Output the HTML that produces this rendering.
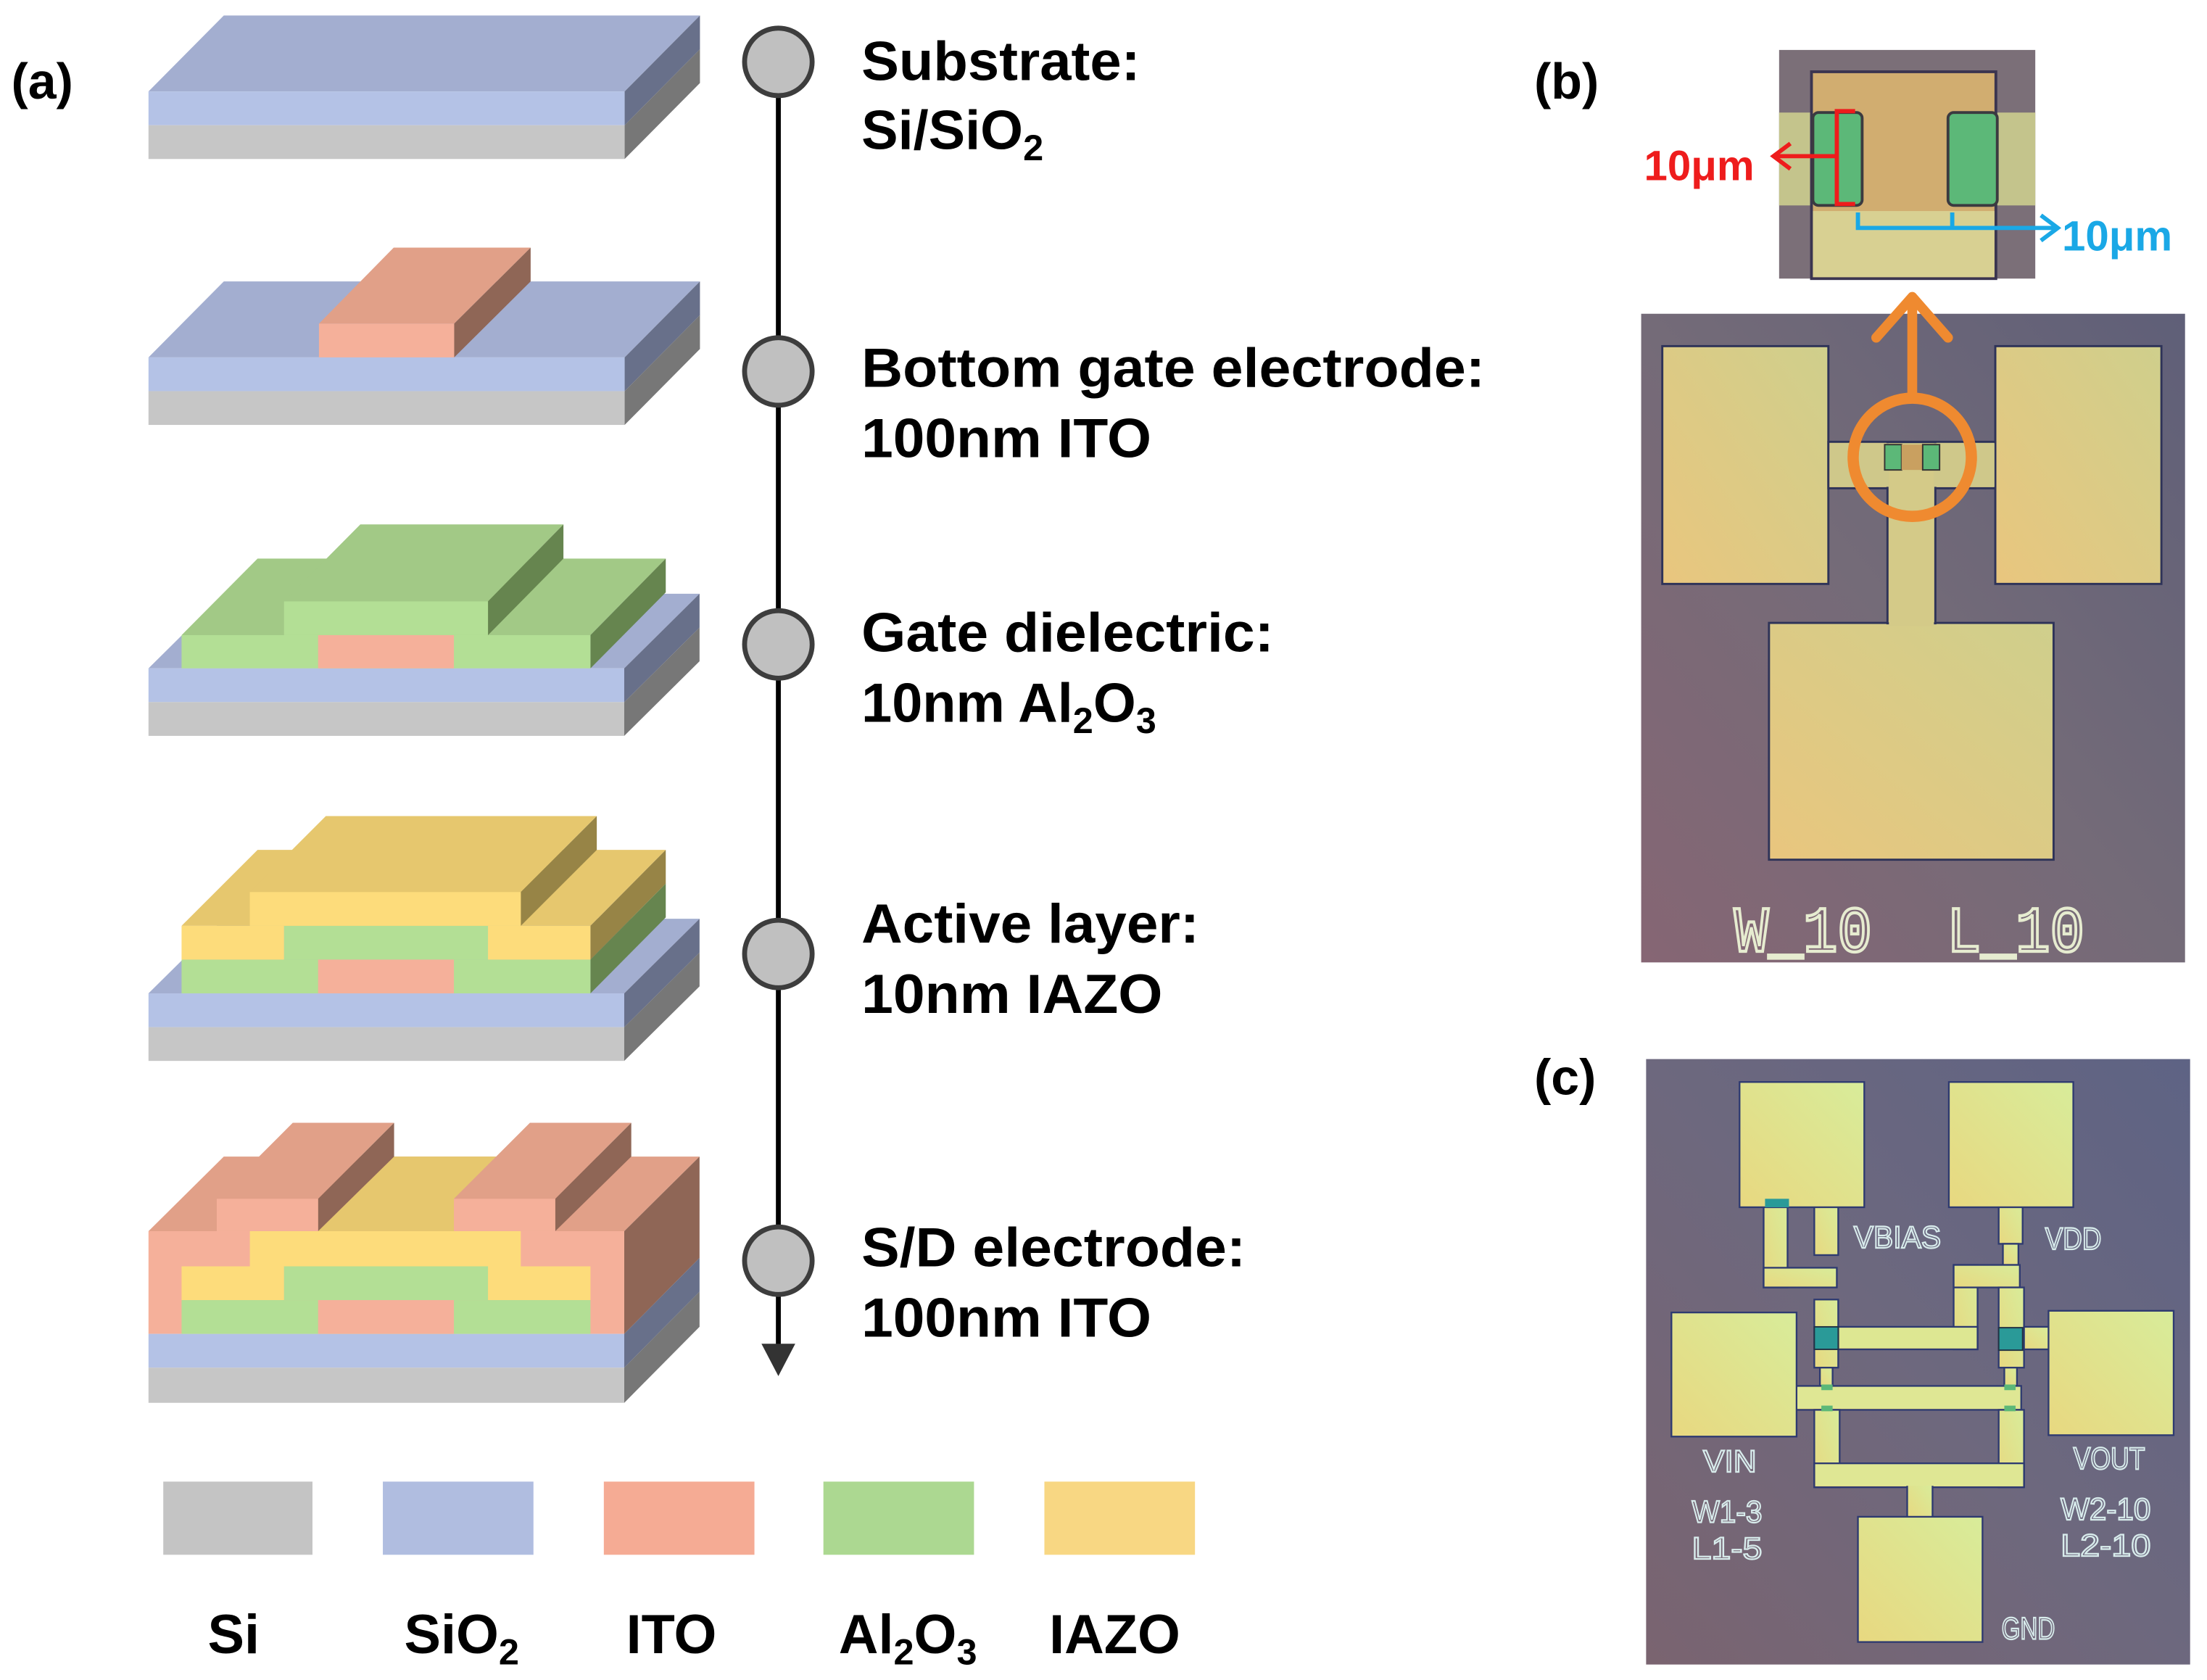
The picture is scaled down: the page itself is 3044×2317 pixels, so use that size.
<!DOCTYPE html>
<html><head><meta charset="utf-8"><style>html,body{margin:0;padding:0;background:#fff}svg{display:block}</style></head>
<body>
<svg width="3044" height="2317" viewBox="0 0 1568 1194" preserveAspectRatio="none" xmlns="http://www.w3.org/2000/svg" font-family="Liberation Sans, Arial, sans-serif">
<defs>
<linearGradient id="bgb" x1="0" y1="1" x2="1" y2="0"><stop offset="0" stop-color="#866674"/><stop offset="0.5" stop-color="#746b78"/><stop offset="1" stop-color="#5f5f78"/></linearGradient>
<linearGradient id="bgc" x1="0" y1="1" x2="1" y2="0"><stop offset="0" stop-color="#7a6470"/><stop offset="0.5" stop-color="#6d687e"/><stop offset="1" stop-color="#5e6384"/></linearGradient>
<linearGradient id="padb" x1="0" y1="1" x2="1" y2="0"><stop offset="0" stop-color="#e9c67e"/><stop offset="1" stop-color="#cfcf8c"/></linearGradient>
<linearGradient id="padc" x1="0" y1="1" x2="1" y2="0"><stop offset="0" stop-color="#e8d880"/><stop offset="1" stop-color="#d8ec9a"/></linearGradient>
</defs>
<rect width="1568" height="1194" fill="#fff"/>

<!-- (a) -->
<text x="8" y="70" font-size="36" font-weight="bold">(a)</text>

<!-- Stack 1 -->
<polygon points="105.5,65 443.8,65 497.3,11 159,11" fill="#a3aed0"/>
<rect x="105.5" y="65" width="338.3" height="24" fill="#b4c2e6"/>
<rect x="105.5" y="89" width="338.3" height="24" fill="#c6c6c6"/>
<polygon points="443.8,65 497.3,11 497.3,35 443.8,89" fill="#68708a"/>
<polygon points="443.8,89 497.3,35 497.3,59 443.8,113" fill="#777"/>

<!-- Stack 2 -->
<polygon points="105.5,254 443.8,254 497.3,200 159,200" fill="#a3aed0"/>
<rect x="105.5" y="254" width="338.3" height="24" fill="#b4c2e6"/>
<rect x="105.5" y="278" width="338.3" height="24" fill="#c6c6c6"/>
<polygon points="443.8,254 497.3,200 497.3,224 443.8,278" fill="#68708a"/>
<polygon points="443.8,278 497.3,224 497.3,248 443.8,302" fill="#777"/>
<polygon points="226.6,230 322.7,230 377,176 279.7,176" fill="#e1a088"/>
<rect x="226.6" y="230" width="96.1" height="24" fill="#f5b09a"/>
<polygon points="322.7,230 377,176 377,200 322.7,254" fill="#8f6656"/>

<!-- Stack 3 -->
<polygon points="105.5,475 443.5,475 497,422 159,422" fill="#a3aed0"/>
<rect x="105.5" y="475" width="338" height="24" fill="#b4c2e6"/>
<rect x="105.5" y="499" width="338" height="24" fill="#c6c6c6"/>
<polygon points="443.5,475 497,422 497,446 443.5,499" fill="#68708a"/>
<polygon points="443.5,499 497,446 497,470 443.5,523" fill="#777"/>
<polygon points="129,451.4 419.5,451.4 473,397 183,397" fill="#a2c986"/>
<polygon points="201.8,427.4 346.7,427.4 400.3,372.7 256,372.7" fill="#a2c986"/>
<polygon points="346.7,427.4 400.3,372.7 400.3,397 346.7,451.4" fill="#66854f"/>
<polygon points="419.5,451.4 473,397 473,421 419.5,475" fill="#66854f"/>
<rect x="129" y="451.4" width="290.5" height="23.6" fill="#b3df95"/>
<rect x="201.8" y="427.4" width="144.9" height="24" fill="#b3df95"/>
<rect x="226" y="451.4" width="96.5" height="23.6" fill="#f5b09a"/>

<!-- Stack 4 -->
<polygon points="105.5,706 443.5,706 497,653 159,653" fill="#a3aed0"/>
<rect x="105.5" y="706" width="338" height="24" fill="#b4c2e6"/>
<rect x="105.5" y="730" width="338" height="24" fill="#c6c6c6"/>
<polygon points="443.5,706 497,653 497,677 443.5,730" fill="#68708a"/>
<polygon points="443.5,730 497,677 497,701 443.5,754" fill="#777"/>
<polygon points="129,658 419.5,658 473,604 183,604" fill="#e6c76e"/>
<polygon points="177.5,634 370,634 424,580 231.5,580" fill="#e6c76e"/>
<polygon points="370,634 424,580 424,604 370,658" fill="#978446"/>
<polygon points="419.5,658 473,604 473,628 419.5,682" fill="#978446"/>
<polygon points="419.5,682 473,628 473,652 419.5,706" fill="#66854f"/>
<rect x="129" y="682" width="290.5" height="24" fill="#b3df95"/>
<rect x="201.8" y="658" width="144.9" height="24" fill="#b3df95"/>
<rect x="226" y="682" width="96.5" height="24" fill="#f5b09a"/>
<rect x="129" y="658" width="72.8" height="24" fill="#fddc7b"/>
<rect x="346.7" y="658" width="72.8" height="24" fill="#fddc7b"/>
<rect x="177.5" y="634" width="192.5" height="24" fill="#fddc7b"/>

<!-- Stack 5 -->
<polygon points="105.5,875 443.5,875 497,822 159,822" fill="#e1a088"/>
<polygon points="226,875 280,822 352.5,822 322.5,852 322.5,875" fill="#e6c76e"/>
<polygon points="154,852 226,852 280,798 208,798" fill="#e1a088"/>
<polygon points="322.5,852 394.5,852 448.5,798 376.5,798" fill="#e1a088"/>
<polygon points="226,852 280,798 280,822 226,875" fill="#8f6656"/>
<polygon points="394.5,852 448.5,798 448.5,822 394.5,875" fill="#8f6656"/>
<polygon points="443.5,875 497,822 497,894 443.5,948" fill="#8f6656"/>
<polygon points="443.5,948 497,894 497,918 443.5,972" fill="#68708a"/>
<polygon points="443.5,972 497,918 497,943 443.5,997" fill="#777"/>
<rect x="105.5" y="875" width="338" height="73" fill="#f5b09a"/>
<rect x="154" y="852" width="72" height="23" fill="#f5b09a"/>
<rect x="322.5" y="852" width="72" height="23" fill="#f5b09a"/>
<rect x="105.5" y="948" width="338" height="24" fill="#b4c2e6"/>
<rect x="105.5" y="972" width="338" height="25" fill="#c6c6c6"/>
<rect x="177.5" y="875" width="192.5" height="25" fill="#fddc7b"/>
<rect x="129" y="900" width="72.8" height="24" fill="#fddc7b"/>
<rect x="346.7" y="900" width="72.8" height="24" fill="#fddc7b"/>
<rect x="201.8" y="900" width="144.9" height="24" fill="#b3df95"/>
<rect x="129" y="924" width="290.5" height="24" fill="#b3df95"/>
<rect x="226" y="924" width="96.5" height="24" fill="#f5b09a"/>

<!-- Timeline -->
<line x1="553" y1="44" x2="553" y2="958" stroke="#000" stroke-width="3.5"/>
<polygon points="541,955 565,955 553,978" fill="#333"/>
<g fill="#c0c0c0" stroke="#3d3d3d" stroke-width="3.5">
<circle cx="553" cy="44" r="24"/><circle cx="553" cy="264" r="24"/><circle cx="553" cy="458" r="24"/><circle cx="553" cy="678" r="24"/><circle cx="553" cy="896" r="24"/>
</g>

<g font-size="39" font-weight="bold" fill="#000">
<text x="612" y="57" textLength="198" lengthAdjust="spacingAndGlyphs">Substrate:</text>
<text x="612" y="106">Si/SiO<tspan font-size="26" dy="8">2</tspan></text>
<text x="612" y="275" textLength="443" lengthAdjust="spacingAndGlyphs">Bottom gate electrode:</text>
<text x="612" y="325" textLength="206" lengthAdjust="spacingAndGlyphs">100nm ITO</text>
<text x="612" y="463" textLength="293" lengthAdjust="spacingAndGlyphs">Gate dielectric:</text>
<text x="612" y="513">10nm Al<tspan font-size="26" dy="8">2</tspan><tspan dy="-8">O</tspan><tspan font-size="26" dy="8">3</tspan></text>
<text x="612" y="670" textLength="240" lengthAdjust="spacingAndGlyphs">Active layer:</text>
<text x="612" y="720" textLength="214" lengthAdjust="spacingAndGlyphs">10nm IAZO</text>
<text x="612" y="900" textLength="273" lengthAdjust="spacingAndGlyphs">S/D electrode:</text>
<text x="612" y="950" textLength="206" lengthAdjust="spacingAndGlyphs">100nm ITO</text>
</g>

<!-- Legend -->
<rect x="116" y="1053" width="106" height="52" fill="#c4c4c4"/>
<rect x="272" y="1053" width="107" height="52" fill="#b0bde0"/>
<rect x="429" y="1053" width="107" height="52" fill="#f5ab94"/>
<rect x="585" y="1053" width="107" height="52" fill="#acd891"/>
<rect x="742" y="1053" width="107" height="52" fill="#f8d783"/>
<g font-size="39" font-weight="bold" text-anchor="middle">
<text x="166" y="1175">Si</text>
<text x="328" y="1175">SiO<tspan font-size="26" dy="8">2</tspan></text>
<text x="477" y="1175">ITO</text>
<text x="645" y="1175">Al<tspan font-size="26" dy="8">2</tspan><tspan dy="-8">O</tspan><tspan font-size="26" dy="8">3</tspan></text>
<text x="792" y="1175">IAZO</text>
</g>

<!-- (b) -->
<text x="1090" y="70" font-size="36" font-weight="bold">(b)</text>
<!-- inset -->
<rect x="1264" y="35.5" width="182" height="162.5" fill="#7b6f78"/>
<rect x="1264" y="80" width="182" height="66" fill="#c4c48c"/>
<rect x="1287" y="51" width="131" height="147" fill="#d1ad70" stroke="#3b3550" stroke-width="2"/>
<rect x="1288" y="150" width="129" height="47" fill="#d8d092"/>
<rect x="1288" y="80" width="35" height="66" rx="4" fill="#5cb878" stroke="#3b3a40" stroke-width="2"/>
<rect x="1384" y="80" width="35" height="66" rx="4" fill="#5cb878" stroke="#3b3a40" stroke-width="2"/>
<g stroke="#ee1c1c" stroke-width="3" fill="none">
<polyline points="1318,79 1305,79 1305,145 1318,145"/>
<line x1="1305" y1="111" x2="1260" y2="111"/>
<polyline points="1272,102 1260,111 1272,120"/>
</g>
<text x="1168" y="128" font-size="30" font-weight="bold" fill="#ee1c1c">10μm</text>
<g stroke="#1aa8e6" stroke-width="3" fill="none">
<polyline points="1320,151 1320,162 1462,162"/>
<line x1="1387" y1="151" x2="1387" y2="162"/>
<polyline points="1450,153 1462,162 1450,171"/>
</g>
<text x="1465" y="178" font-size="30" font-weight="bold" fill="#1aa8e6">10μm</text>

<!-- main b image -->
<rect x="1166" y="223" width="386.4" height="461" fill="url(#bgb)"/>
<g fill="url(#padb)" stroke="#2e3358" stroke-width="1.5">
<rect x="1181" y="246" width="118" height="169"/>
<rect x="1417.6" y="246" width="118" height="169"/>
<rect x="1256.8" y="442.7" width="202.2" height="168.3"/>
<rect x="1299" y="314" width="118.6" height="33"/>
<rect x="1341" y="315" width="34" height="128"/>
</g>
<rect x="1300" y="315" width="117" height="31" fill="#cfc88a"/>
<rect x="1342" y="315" width="32" height="130" fill="#d4ca88"/>
<rect x="1339" y="316" width="12" height="18" fill="#5cb878" stroke="#333" stroke-width="1"/>
<rect x="1351" y="316" width="15" height="18" fill="#c9a060"/>
<rect x="1366" y="316" width="12" height="18" fill="#5cb878" stroke="#333" stroke-width="1"/>
<ellipse cx="1358.6" cy="325" rx="42" ry="42" fill="none" stroke="#ef8a30" stroke-width="8"/>
<line x1="1358.6" y1="283" x2="1358.6" y2="212" stroke="#ef8a30" stroke-width="7"/>
<polyline points="1333,240 1358.6,211 1384,240" fill="none" stroke="#ef8a30" stroke-width="7" stroke-linecap="round" stroke-linejoin="round"/>
<g font-family="Liberation Mono, monospace" font-size="46" fill="none" stroke="#e6ecd0" stroke-width="2.2">
<text x="1232" y="676" textLength="98" lengthAdjust="spacingAndGlyphs">W_10</text>
<text x="1383" y="676" textLength="98" lengthAdjust="spacingAndGlyphs">L_10</text>
</g>

<!-- (c) -->
<text x="1090" y="778" font-size="36" font-weight="bold">(c)</text>
<rect x="1169.5" y="752.7" width="386.5" height="430.3" fill="url(#bgc)"/>
<g fill="url(#padc)" stroke="#2e3a70" stroke-width="1.2">
<rect x="1289" y="855" width="17" height="37"/>
<rect x="1253" y="851" width="17" height="64"/>
<rect x="1253" y="901" width="52" height="14"/>
<rect x="1420" y="855" width="17" height="29"/>
<rect x="1423" y="884" width="11" height="15"/>
<rect x="1388" y="899" width="17" height="60"/>
<rect x="1388" y="899" width="47" height="16"/>
<rect x="1306" y="943" width="99" height="16"/>
<rect x="1289" y="923.6" width="17" height="48.4"/>
<rect x="1420" y="915" width="18" height="57"/>
<rect x="1438" y="943" width="19" height="16"/>
<rect x="1293" y="972" width="9" height="13"/>
<rect x="1424" y="972" width="9" height="13"/>
<rect x="1276" y="985" width="160" height="17"/>
<rect x="1289" y="1002" width="18" height="55"/>
<rect x="1420" y="1002" width="18" height="55"/>
<rect x="1289" y="1040" width="149" height="17"/>
<rect x="1355" y="1055" width="18" height="25"/>
<rect x="1235.9" y="769" width="88.6" height="89"/>
<rect x="1384.6" y="769" width="88.4" height="89"/>
<rect x="1187.5" y="932.8" width="88.9" height="88.2"/>
<rect x="1455.4" y="931.6" width="88.9" height="88.4"/>
<rect x="1320" y="1078" width="88.5" height="89"/>
</g>
<rect x="1290" y="1041" width="147" height="15" fill="#dfe794"/>
<rect x="1277" y="986" width="158" height="15" fill="#dfe794"/>
<rect x="1307" y="944" width="97" height="14" fill="#dde792"/>
<rect x="1254" y="852" width="17" height="6" fill="#2a9a98"/>
<rect x="1289" y="943" width="17" height="16" fill="#2a9a98" stroke="#234" stroke-width="1"/>
<rect x="1420" y="943.6" width="17" height="16" fill="#2a9a98" stroke="#234" stroke-width="1"/>
<rect x="1294" y="984" width="8" height="4" fill="#5cb878"/>
<rect x="1294" y="999" width="8" height="4" fill="#5cb878"/>
<rect x="1424" y="984" width="8" height="4" fill="#5cb878"/>
<rect x="1424" y="999" width="8" height="4" fill="#5cb878"/>
<g font-family="Liberation Sans, sans-serif" font-size="22" fill="none" stroke="#d8ecec" stroke-width="1.1">
<text x="1317" y="887" textLength="62" lengthAdjust="spacingAndGlyphs">VBIAS</text>
<text x="1453" y="888" textLength="40" lengthAdjust="spacingAndGlyphs">VDD</text>
<text x="1210" y="1046" textLength="38" lengthAdjust="spacingAndGlyphs">VIN</text>
<text x="1473" y="1044" textLength="51" lengthAdjust="spacingAndGlyphs">VOUT</text>
<text x="1202" y="1082" textLength="50" lengthAdjust="spacingAndGlyphs">W1-3</text>
<text x="1202" y="1108" textLength="50" lengthAdjust="spacingAndGlyphs">L1-5</text>
<text x="1464" y="1080" textLength="64" lengthAdjust="spacingAndGlyphs">W2-10</text>
<text x="1464" y="1106" textLength="64" lengthAdjust="spacingAndGlyphs">L2-10</text>
<text x="1422" y="1165" textLength="38" lengthAdjust="spacingAndGlyphs">GND</text>
</g>
</svg>
</body></html>
